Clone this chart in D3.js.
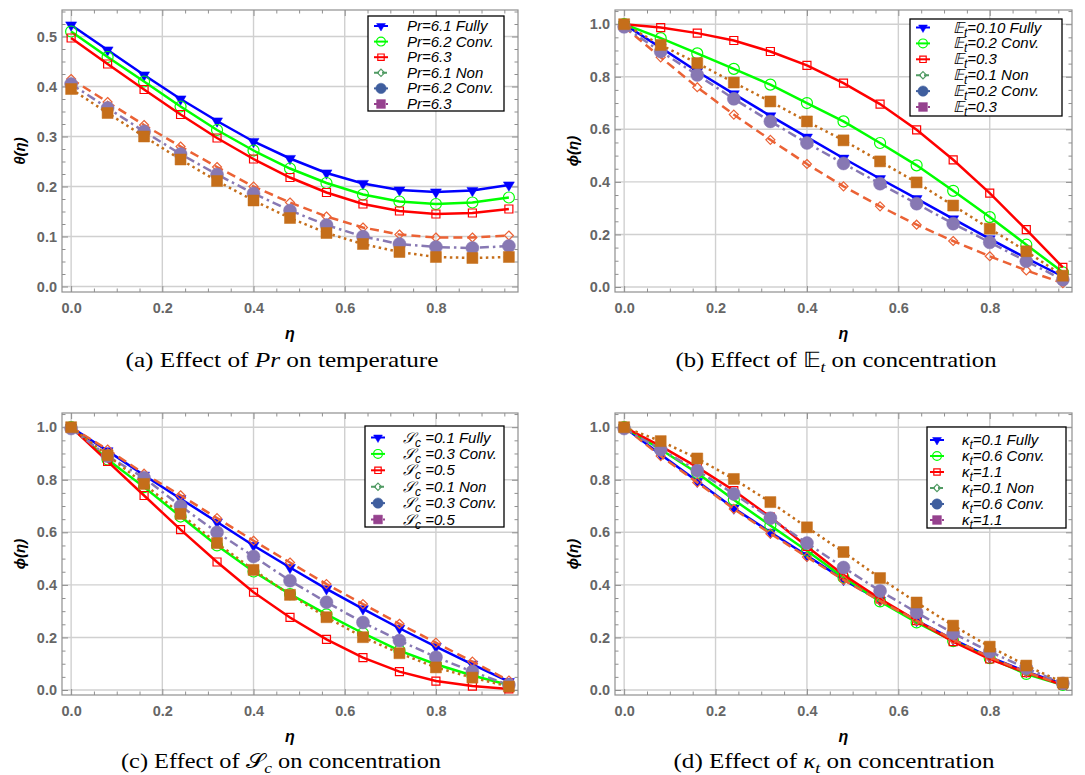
<!DOCTYPE html>
<html>
<head>
<meta charset="utf-8">
<script src="https://cdn.jsdelivr.net/npm/d3@7"></script>
<style>
  body { margin: 0; background: #fff; }
  svg { display: block; }
</style>
</head>
<body>
<svg id="chart" width="1085" height="775"></svg>
<script>
// eta grid shared by all panels
const etaPoints = [0, 0.08, 0.16, 0.24, 0.32, 0.4, 0.48, 0.56, 0.64, 0.72, 0.8, 0.88, 0.96];

// (a) theta vs eta, Pr
const thetaPrFully   = [0.523, 0.473, 0.423, 0.375, 0.331, 0.290, 0.256, 0.227, 0.206, 0.193, 0.189, 0.192, 0.203];
const thetaPrConv    = [0.510, 0.459, 0.410, 0.360, 0.313, 0.272, 0.236, 0.207, 0.184, 0.170, 0.165, 0.168, 0.178];
const thetaPr63      = [0.497, 0.445, 0.394, 0.344, 0.297, 0.255, 0.218, 0.188, 0.165, 0.151, 0.145, 0.147, 0.155];
const thetaPrNon     = [0.415, 0.369, 0.323, 0.280, 0.239, 0.200, 0.168, 0.140, 0.118, 0.104, 0.098, 0.098, 0.102];
const thetaPrNonConv = [0.405, 0.357, 0.310, 0.265, 0.224, 0.186, 0.152, 0.123, 0.100, 0.085, 0.079, 0.077, 0.081];
const thetaPrNon63   = [0.395, 0.347, 0.300, 0.254, 0.211, 0.172, 0.137, 0.107, 0.085, 0.069, 0.059, 0.057, 0.059];

// (b) phi vs eta, E_t
const phiEtFully   = [1.000, 0.911, 0.820, 0.735, 0.651, 0.570, 0.490, 0.412, 0.336, 0.259, 0.183, 0.110, 0.040];
const phiEtConv    = [1.000, 0.947, 0.889, 0.830, 0.770, 0.700, 0.630, 0.548, 0.463, 0.366, 0.266, 0.161, 0.056];
const phiEt03      = [1.000, 0.987, 0.966, 0.938, 0.896, 0.843, 0.776, 0.696, 0.598, 0.484, 0.357, 0.218, 0.075];
const phiEtNon     = [0.990, 0.874, 0.760, 0.656, 0.560, 0.468, 0.383, 0.307, 0.237, 0.175, 0.117, 0.063, 0.015];
const phiEtNonConv = [0.990, 0.896, 0.807, 0.716, 0.630, 0.548, 0.470, 0.393, 0.317, 0.241, 0.170, 0.098, 0.028];
const phiEtNon03   = [1.000, 0.921, 0.852, 0.778, 0.706, 0.630, 0.558, 0.478, 0.398, 0.310, 0.222, 0.136, 0.043];

// (c) phi vs eta, S_c
const phiScFully   = [1.000, 0.910, 0.817, 0.728, 0.639, 0.550, 0.466, 0.385, 0.309, 0.235, 0.165, 0.098, 0.032];
const phiScConv    = [1.000, 0.877, 0.772, 0.660, 0.550, 0.451, 0.365, 0.288, 0.216, 0.150, 0.098, 0.055, 0.019];
const phiSc05      = [1.000, 0.870, 0.740, 0.610, 0.487, 0.372, 0.276, 0.193, 0.123, 0.070, 0.034, 0.015, 0.004];
const phiScNon     = [1.000, 0.915, 0.823, 0.741, 0.654, 0.568, 0.485, 0.403, 0.327, 0.252, 0.180, 0.108, 0.036];
const phiScNonConv = [0.995, 0.890, 0.807, 0.700, 0.600, 0.508, 0.416, 0.334, 0.257, 0.188, 0.125, 0.070, 0.019];
const phiScNon05   = [1.000, 0.893, 0.784, 0.670, 0.559, 0.457, 0.362, 0.277, 0.201, 0.140, 0.086, 0.047, 0.013];

// (d) phi vs eta, kappa_t
const phiKtFully   = [1.000, 0.896, 0.794, 0.692, 0.600, 0.512, 0.420, 0.341, 0.264, 0.193, 0.125, 0.070, 0.023];
const phiKtConv    = [1.000, 0.915, 0.826, 0.724, 0.626, 0.530, 0.428, 0.337, 0.257, 0.186, 0.121, 0.061, 0.019];
const phiKt11      = [1.000, 0.928, 0.848, 0.759, 0.658, 0.546, 0.438, 0.347, 0.264, 0.184, 0.118, 0.066, 0.019];
const phiKtNon     = [1.000, 0.890, 0.790, 0.689, 0.595, 0.506, 0.419, 0.339, 0.264, 0.192, 0.125, 0.068, 0.020];
const phiKtNonConv = [0.995, 0.915, 0.835, 0.746, 0.654, 0.559, 0.466, 0.377, 0.295, 0.216, 0.146, 0.083, 0.025];
const phiKtNon11   = [1.000, 0.947, 0.881, 0.803, 0.715, 0.619, 0.525, 0.426, 0.333, 0.245, 0.165, 0.093, 0.028];

// legend value strings
const legendPr = ["=6.1 Fully", "=6.2 Conv.", "=6.3", "=6.1 Non", "=6.2 Conv.", "=6.3"];
const legendEt = ["=0.10 Fully", "=0.2 Conv.", "=0.3", "=0.1 Non", "=0.2 Conv.", "=0.3"];
const legendSc = [" =0.1 Fully", " =0.3 Conv.", " =0.5", " =0.1 Non", " =0.3 Conv.", " =0.5"];
const legendKt = ["=0.1 Fully", "=0.6 Conv.", "=1.1", "=0.1 Non", "=0.6 Conv.", "=1.1"];

const xTicks = [0, 0.2, 0.4, 0.6, 0.8];
const yTicksTheta = [0, 0.1, 0.2, 0.3, 0.4, 0.5];
const yTicksPhi = [0, 0.2, 0.4, 0.6, 0.8, 1.0];

const lineColors = ["#0000ff", "#00ff00", "#ff0000", "#eb6235", "#8778b3", "#c56e1a"];
const legendColors = ["#0000ff", "#00ff00", "#ff0000", "#519b64", "#3f5e9e", "#96428f"];
const dashes = [null, null, null, "9,5", "9,4,2.5,4", "2.5,3.5"];
const markers = [
  { kind: "tri", size: 11, fill: true },
  { kind: "circle", size: 11, fill: false },
  { kind: "square", size: 8, fill: false },
  { kind: "diamond", size: 9, fill: false },
  { kind: "circle", size: 13, fill: true },
  { kind: "square", size: 11, fill: true }
];

const panels = [
  { box: { x: 62, y: 10, w: 456, h: 282 }, yDomain: [-0.011, 0.553], yTicks: yTicksTheta, yMinor: 0.025,
    series: [thetaPrFully, thetaPrConv, thetaPr63, thetaPrNon, thetaPrNonConv, thetaPrNon63],
    yTitle: "θ(η)", sym: "Pr", sub: null, legend: legendPr,
    leg: { x: 368, y: 16, w: 136, h: 95, mx: 381, tx: 407, r0: 26, step: 15.6 },
    cap: { x: 282, y: 367, w: 313, label: "(a)", sym: "Pr", sub: null, rest: " on temperature" } },
  { box: { x: 615, y: 10, w: 457, h: 282 }, yDomain: [-0.019, 1.054], yTicks: yTicksPhi, yMinor: 0.05,
    series: [phiEtFully, phiEtConv, phiEt03, phiEtNon, phiEtNonConv, phiEtNon03],
    yTitle: "ϕ(η)", sym: "𝔼", sub: "t", legend: legendEt,
    leg: { x: 910, y: 19, w: 152, h: 97, mx: 923, tx: 953, r0: 27.5, step: 15.9 },
    cap: { x: 836, y: 367, w: 321, label: "(b)", sym: "𝔼", sub: "t", rest: " on concentration" } },
  { box: { x: 62, y: 413, w: 456, h: 282 }, yDomain: [-0.019, 1.054], yTicks: yTicksPhi, yMinor: 0.05,
    series: [phiScFully, phiScConv, phiSc05, phiScNon, phiScNonConv, phiScNon05],
    yTitle: "ϕ(η)", sym: "𝒮", sub: "c", legend: legendSc,
    leg: { x: 365, y: 426, w: 139, h: 101, mx: 378, tx: 403, r0: 437.5, step: 16.4 },
    cap: { x: 281, y: 768, w: 320, label: "(c)", sym: "𝒮", sub: "c", rest: " on concentration" } },
  { box: { x: 615, y: 413, w: 457, h: 282 }, yDomain: [-0.019, 1.054], yTicks: yTicksPhi, yMinor: 0.05,
    series: [phiKtFully, phiKtConv, phiKt11, phiKtNon, phiKtNonConv, phiKtNon11],
    yTitle: "ϕ(η)", sym: "κ", sub: "t", legend: legendKt,
    leg: { x: 927, y: 427, w: 139, h: 101, mx: 937, tx: 962, r0: 440, step: 16 },
    cap: { x: 834, y: 768, w: 321, label: "(d)", sym: "κ", sub: "t", rest: " on concentration" } }
];

const svg = d3.select("#chart");
const sans = "'Liberation Sans', Arial, sans-serif";
const serif = "'Liberation Serif', 'Times New Roman', serif";

function markerPath(kind, s) {
  const r = s / 2;
  if (kind === "tri") {
    const h = s * 0.85;
    return `M${-r},${-h / 3}L${r},${-h / 3}L0,${2 * h / 3}Z`;
  }
  if (kind === "circle") return `M${r},0A${r},${r} 0 1,1 ${-r},0A${r},${r} 0 1,1 ${r},0Z`;
  if (kind === "square") return `M${-r},${-r}H${r}V${r}H${-r}Z`;
  return `M0,${-r}L${r},0L0,${r}L${-r},0Z`;
}

function drawMarker(g, m, color, x, y, scale) {
  const s = m.size * (scale || 1);
  g.append("path")
    .attr("d", markerPath(m.kind, s))
    .attr("transform", `translate(${x},${y})`)
    .attr("fill", m.fill ? color : "none")
    .attr("stroke", color)
    .attr("stroke-width", m.fill ? 0.5 : 1.2);
}

function range(a, b, step) {
  const out = [];
  for (let v = a; v <= b + 1e-9; v += step) out.push(+v.toFixed(4));
  return out;
}

panels.forEach(p => {
  const b = p.box;
  const x = d3.scaleLinear().domain([-0.02, 0.98]).range([b.x, b.x + b.w]);
  const y = d3.scaleLinear().domain(p.yDomain).range([b.y + b.h, b.y]);
  const g = svg.append("g");

  const xMinor = range(0, 0.95, 0.05).filter(v => !xTicks.some(t => Math.abs(t - v) < 1e-6));
  const yMinor = range(0, p.yDomain[1], p.yMinor).filter(v => !p.yTicks.some(t => Math.abs(t - v) < 1e-6));

  // grid
  g.append("g").selectAll("line").data(xTicks).join("line")
    .attr("x1", d => x(d)).attr("x2", d => x(d))
    .attr("y1", b.y).attr("y2", b.y + b.h)
    .attr("stroke", "#d0d0d0").attr("stroke-width", 1.4);
  g.append("g").selectAll("line").data(p.yTicks).join("line")
    .attr("y1", d => y(d)).attr("y2", d => y(d))
    .attr("x1", b.x).attr("x2", b.x + b.w)
    .attr("stroke", "#d0d0d0").attr("stroke-width", 1.4);

  // frame ticks, all four sides, pointing inward
  const styleAxis = (sel) => {
    sel.select(".domain").remove();
    sel.selectAll(".tick line").attr("stroke", "#8f8f8f").attr("stroke-width", 1);
    sel.selectAll(".tick text")
      .attr("fill", "#666").attr("font-family", sans)
      .attr("font-weight", "bold").attr("font-size", 14.5);
  };
  g.append("g").attr("transform", `translate(0,${b.y + b.h})`)
    .call(d3.axisBottom(x).tickValues(xTicks).tickSize(-6).tickPadding(11).tickFormat(d3.format(".1f")))
    .call(styleAxis);
  g.append("g").attr("transform", `translate(0,${b.y + b.h})`)
    .call(d3.axisBottom(x).tickValues(xMinor).tickSize(-3.5).tickFormat(""))
    .call(styleAxis);
  g.append("g").attr("transform", `translate(0,${b.y})`)
    .call(d3.axisTop(x).tickValues(xTicks).tickSize(-6).tickFormat(""))
    .call(styleAxis);
  g.append("g").attr("transform", `translate(0,${b.y})`)
    .call(d3.axisTop(x).tickValues(xMinor).tickSize(-3.5).tickFormat(""))
    .call(styleAxis);
  g.append("g").attr("transform", `translate(${b.x},0)`)
    .call(d3.axisLeft(y).tickValues(p.yTicks).tickSize(-6).tickPadding(5).tickFormat(d3.format(".1f")))
    .call(styleAxis);
  g.append("g").attr("transform", `translate(${b.x},0)`)
    .call(d3.axisLeft(y).tickValues(yMinor).tickSize(-3.5).tickFormat(""))
    .call(styleAxis);
  g.append("g").attr("transform", `translate(${b.x + b.w},0)`)
    .call(d3.axisRight(y).tickValues(p.yTicks).tickSize(-6).tickFormat(""))
    .call(styleAxis);
  g.append("g").attr("transform", `translate(${b.x + b.w},0)`)
    .call(d3.axisRight(y).tickValues(yMinor).tickSize(-3.5).tickFormat(""))
    .call(styleAxis);

  g.append("rect")
    .attr("x", b.x).attr("y", b.y).attr("width", b.w).attr("height", b.h)
    .attr("fill", "none").attr("stroke", "#8f8f8f").attr("stroke-width", 1.2);

  // series
  const clipId = "clip" + b.x + "_" + b.y;
  svg.append("clipPath").attr("id", clipId).append("rect")
    .attr("x", b.x).attr("y", b.y).attr("width", b.w).attr("height", b.h);
  const plot = g.append("g").attr("clip-path", `url(#${clipId})`);
  const line = d3.line().x(d => x(d[0])).y(d => y(d[1]));

  p.series.forEach((vals, i) => {
    const pts = etaPoints.map((e, k) => [e, vals[k]]);
    plot.append("path")
      .attr("d", line(pts))
      .attr("fill", "none")
      .attr("stroke", lineColors[i])
      .attr("stroke-width", 2.5)
      .attr("stroke-dasharray", dashes[i]);
    pts.forEach(d => drawMarker(plot, markers[i], lineColors[i], x(d[0]), y(d[1])));
  });

  // axis titles
  g.append("text")
    .attr("transform", `translate(${b.x - 42},${b.y + b.h / 2}) rotate(-90)`)
    .attr("text-anchor", "middle").attr("dy", "0.35em")
    .attr("font-family", sans).attr("font-weight", "bold").attr("font-style", "italic")
    .attr("font-size", 15).text(p.yTitle);
  g.append("text")
    .attr("x", b.x + b.w / 2).attr("y", b.y + b.h + 47)
    .attr("text-anchor", "middle")
    .attr("font-family", sans).attr("font-weight", "bold").attr("font-style", "italic")
    .attr("font-size", 16).text("η");

  // legend
  const L = p.leg;
  const lg = g.append("g");
  lg.append("rect").attr("x", L.x).attr("y", L.y).attr("width", L.w).attr("height", L.h)
    .attr("fill", "#fff").attr("stroke", "#000").attr("stroke-width", 1.3);
  p.legend.forEach((txt, i) => {
    const cy = L.r0 + i * L.step;
    lg.append("line")
      .attr("x1", L.mx - 7).attr("x2", L.mx + 7).attr("y1", cy).attr("y2", cy)
      .attr("stroke", legendColors[i]).attr("stroke-width", 2)
      .attr("stroke-dasharray", i === 3 ? "5,3" : i === 5 ? "3,3" : null);
    drawMarker(lg, markers[i], legendColors[i], L.mx, cy, 0.8);
    const t = lg.append("text")
      .attr("x", L.tx).attr("y", cy + 5)
      .attr("font-family", sans).attr("font-style", "italic").attr("font-size", 15);
    t.append("tspan").text(p.sym);
    if (p.sub) {
      t.append("tspan").attr("dy", 4).attr("font-size", 12).text(p.sub);
      t.append("tspan").attr("dy", -4).text(txt);
    } else {
      t.append("tspan").text(txt);
    }
  });

  // caption
  const c = p.cap;
  const ct = g.append("text")
    .attr("x", c.x).attr("y", c.y).attr("text-anchor", "middle")
    .attr("font-family", serif).attr("font-size", 21)
    .attr("textLength", c.w).attr("lengthAdjust", "spacingAndGlyphs");
  ct.append("tspan").text(c.label + " Effect of ");
  ct.append("tspan").attr("font-style", c.sym === "𝔼" || c.sym === "𝒮" ? "normal" : "italic").text(c.sym);
  if (c.sub) {
    ct.append("tspan").attr("dy", 5).attr("font-size", 15).attr("font-style", "italic").text(c.sub);
    ct.append("tspan").attr("dy", -5).text(c.rest);
  } else {
    ct.append("tspan").text(c.rest);
  }
});
</script>
</body>
</html>
